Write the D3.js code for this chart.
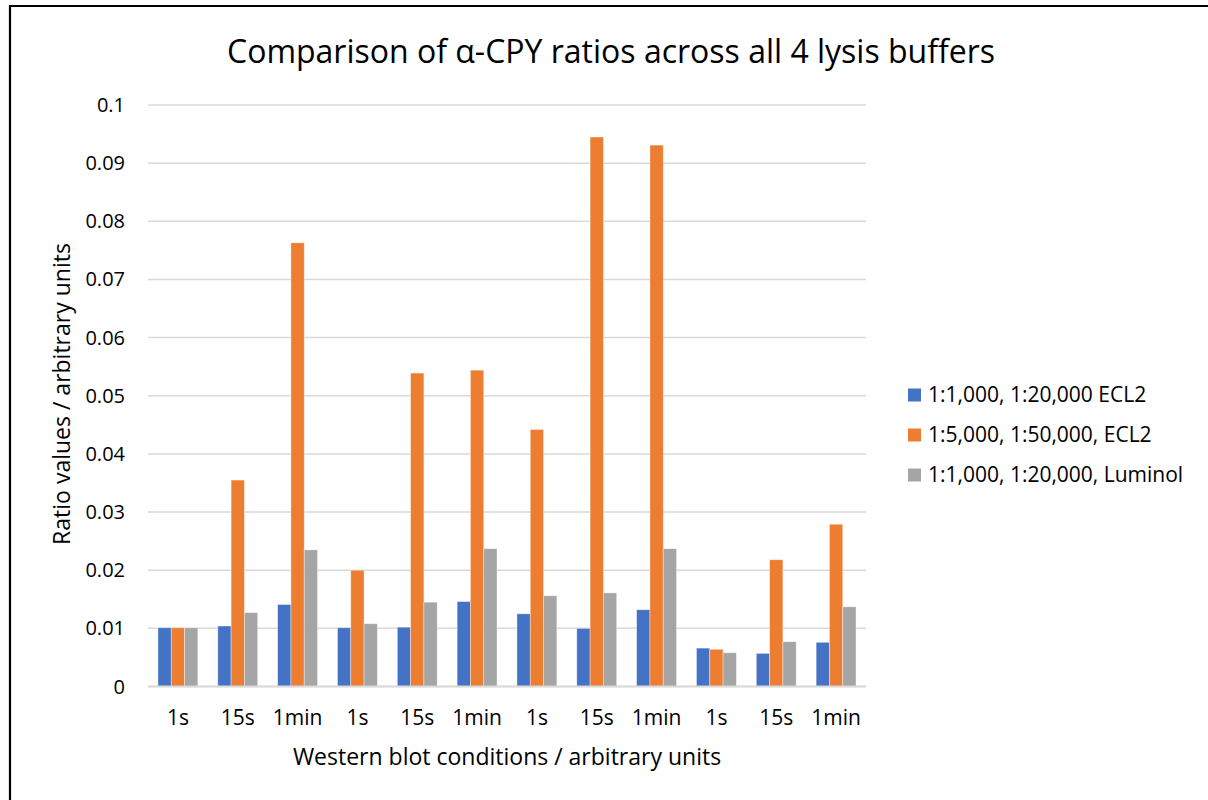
<!DOCTYPE html>
<html>
<head>
<meta charset="utf-8">
<script src="https://cdn.jsdelivr.net/npm/d3@7"></script>
<style>
  html, body { margin: 0; padding: 0; background: #fff; }
  svg { display: block; }
  text { font-family: "Open Sans", "Noto Sans", sans-serif; fill: #000; }
</style>
</head>
<body>
<svg id="chart" width="1208" height="800"></svg>
<script>
// Exposure times on the x axis (three per lysis buffer)
const categories = ["1s", "15s", "1min", "1s", "15s", "1min", "1s", "15s", "1min", "1s", "15s", "1min"];

// Antibody dilution / substrate combinations
const seriesNames = ["1:1,000, 1:20,000 ECL2", "1:5,000, 1:50,000, ECL2", "1:1,000, 1:20,000, Luminol"];

// Ratio values per series, one per category
const ecl2Low   = [0.0101, 0.0104, 0.0141, 0.0101, 0.0102, 0.0146, 0.0125, 0.0100, 0.0132, 0.0066, 0.0057, 0.0076];
const ecl2High  = [0.0101, 0.0355, 0.0763, 0.0200, 0.0539, 0.0544, 0.0442, 0.0945, 0.0931, 0.0064, 0.0218, 0.0279];
const luminol   = [0.0101, 0.0127, 0.0235, 0.0108, 0.0145, 0.0237, 0.0156, 0.0161, 0.0237, 0.0058, 0.0077, 0.0137];

const yTicks = [0, 0.01, 0.02, 0.03, 0.04, 0.05, 0.06, 0.07, 0.08, 0.09, 0.1];
const yTickLabels = ["0", "0.01", "0.02", "0.03", "0.04", "0.05", "0.06", "0.07", "0.08", "0.09", "0.1"];

const colors = ["#4472C4", "#ED7D31", "#A5A5A5"];
const seriesValues = [ecl2Low, ecl2High, luminol];

const svg = d3.select("#chart");

// Outer chart frame
svg.append("path")
  .attr("d", "M10,800 L10,6 L1208,6")
  .attr("fill", "none")
  .attr("stroke", "#000")
  .attr("stroke-width", 2.2);

const plot = { left: 148, right: 866, top: 105, bottom: 686.5 };

const x = d3.scaleBand()
  .domain(d3.range(categories.length))
  .range([plot.left, plot.right])
  .paddingInner(1 / 3)
  .paddingOuter(1 / 6);

const xs = d3.scaleBand()
  .domain(d3.range(seriesNames.length))
  .range([0, x.bandwidth()]);

const y = d3.scaleLinear()
  .domain([0, 0.1])
  .range([plot.bottom, plot.top]);

// Horizontal gridlines
svg.append("g")
  .selectAll("line")
  .data(yTicks)
  .join("line")
  .attr("x1", plot.left)
  .attr("x2", plot.right)
  .attr("y1", d => y(d))
  .attr("y2", d => y(d))
  .attr("stroke", "#d9d9d9")
  .attr("stroke-width", 1.5);

// Bars
const groups = svg.append("g")
  .selectAll("g")
  .data(categories.map((c, i) => i))
  .join("g")
  .attr("transform", i => `translate(${x(i)},0)`);

groups.selectAll("rect")
  .data(i => seriesValues.map((vals, s) => ({ s, v: vals[i] })))
  .join("rect")
  .attr("x", d => xs(d.s))
  .attr("width", xs.bandwidth())
  .attr("y", d => y(d.v))
  .attr("height", d => y(0) - y(d.v))
  .attr("fill", d => colors[d.s])
  .attr("stroke", "#fff")
  .attr("stroke-opacity", 0.5)
  .attr("stroke-width", 0.75);

// Category axis line
svg.append("line")
  .attr("x1", plot.left)
  .attr("x2", plot.right)
  .attr("y1", y(0))
  .attr("y2", y(0))
  .attr("stroke", "#d9d9d9")
  .attr("stroke-width", 2);

// Y tick labels
svg.append("g")
  .selectAll("text")
  .data(yTicks)
  .join("text")
  .attr("x", 125)
  .attr("y", d => y(d))
  .attr("dy", "0.35em")
  .attr("text-anchor", "end")
  .attr("font-size", 20)
  .text((d, i) => yTickLabels[i]);

// X tick labels
svg.append("g")
  .selectAll("text")
  .data(categories)
  .join("text")
  .attr("x", (d, i) => x(i) + x.bandwidth() / 2)
  .attr("y", 718)
  .attr("dy", "0.35em")
  .attr("text-anchor", "middle")
  .attr("font-size", 21)
  .text(d => d);

// Title
svg.append("text")
  .attr("x", 611)
  .attr("y", 52)
  .attr("dy", "0.35em")
  .attr("text-anchor", "middle")
  .attr("font-size", 32)
  .text("Comparison of α-CPY ratios across all 4 lysis buffers");

// Axis titles
svg.append("text")
  .attr("x", 507)
  .attr("y", 757)
  .attr("dy", "0.35em")
  .attr("text-anchor", "middle")
  .attr("font-size", 23)
  .text("Western blot conditions / arbitrary units");

svg.append("text")
  .attr("transform", "translate(62,394) rotate(-90)")
  .attr("dy", "0.35em")
  .attr("text-anchor", "middle")
  .attr("font-size", 23)
  .text("Ratio values / arbitrary units");

// Legend
const legend = svg.append("g")
  .selectAll("g")
  .data(seriesNames)
  .join("g")
  .attr("transform", (d, i) => `translate(908,${395 + i * 40})`);

legend.append("rect")
  .attr("x", 0)
  .attr("y", -6.5)
  .attr("width", 13)
  .attr("height", 13)
  .attr("fill", (d, i) => colors[i]);

legend.append("text")
  .attr("x", 20)
  .attr("y", 0)
  .attr("dy", "0.35em")
  .attr("font-size", 21)
  .text(d => d);
</script>
</body>
</html>
